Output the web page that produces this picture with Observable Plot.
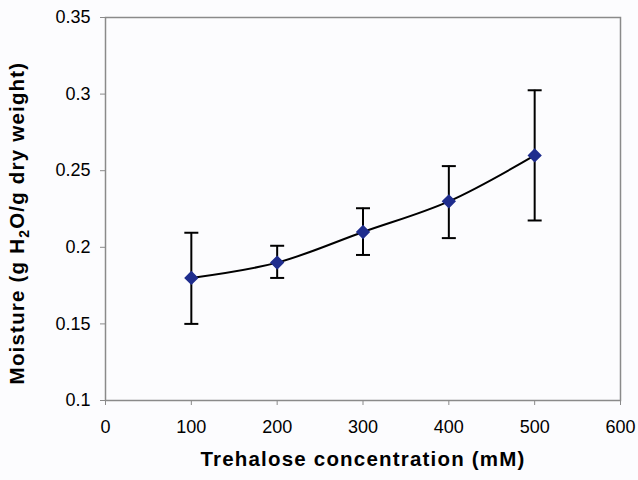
<!DOCTYPE html>
<html>
<head>
<meta charset="utf-8">
<script src="https://cdn.jsdelivr.net/npm/d3@7"></script>
<script src="https://cdn.jsdelivr.net/npm/@observablehq/plot@0.6"></script>
<style>
  html, body { margin: 0; padding: 0; background: #fcfcfe; }
  #chart { width: 638px; height: 480px; }
</style>
</head>
<body>
<div id="chart"></div>
<script>
const concentration = [100, 200, 300, 400, 500];
const moisture = [0.18, 0.19, 0.21, 0.23, 0.26];
const errLow = [0.150, 0.180, 0.195, 0.206, 0.2175];
const errHigh = [0.2095, 0.201, 0.2255, 0.253, 0.3025];
const xTicks = [0, 100, 200, 300, 400, 500, 600];
const yTicks = [0.1, 0.15, 0.2, 0.25, 0.3, 0.35];
const xTitle = "Trehalose concentration (mM)";
const yTitle = "Moisture (g H2O/g dry weight)";

const data = concentration.map((c, i) => ({x: c, y: moisture[i], lo: errLow[i], hi: errHigh[i]}));

const cap = {draw(ctx) { ctx.moveTo(-7, 0); ctx.lineTo(7, 0); }};

const chart = Plot.plot({
  width: 638,
  height: 480,
  marginLeft: 105,
  marginRight: 18,
  marginTop: 17,
  marginBottom: 80,
  style: {background: "#fcfcfe", fontFamily: "'Liberation Sans', Arial, sans-serif", fontSize: "18px", color: "#000"},
  x: {domain: [0, 600], ticks: xTicks, tickFormat: d => String(d)},
  y: {domain: [0.1, 0.35], ticks: yTicks, tickFormat: d => String(d)},
  marks: [
    Plot.frame({stroke: "#8a8a8a", strokeWidth: 1.5}),
    Plot.axisX({ticks: xTicks, tickSize: 5, tickPadding: 15, stroke: "#8a8a8a", fill: "#000", label: null, tickFormat: d => String(d)}),
    Plot.axisY({ticks: yTicks, tickSize: 5, tickPadding: 10, stroke: "#8a8a8a", fill: "#000", label: null, tickFormat: d => String(d)}),
    Plot.ruleX(data, {x: "x", y1: "lo", y2: "hi", stroke: "#000", strokeWidth: 2}),
    Plot.dot(data, {x: "x", y: "lo", symbol: cap, stroke: "#000", strokeWidth: 2, fill: "none"}),
    Plot.dot(data, {x: "x", y: "hi", symbol: cap, stroke: "#000", strokeWidth: 2, fill: "none"}),
    Plot.line(data, {x: "x", y: "y", curve: "catmull-rom", stroke: "#000", strokeWidth: 2}),
    Plot.dot(data, {x: "x", y: "y", symbol: "diamond2", r: 5.5, fill: "#1f2d8e", stroke: "#1f2d8e"}),
    Plot.text([xTitle], {frameAnchor: "bottom", dy: 65, textAnchor: "middle", fontWeight: "bold", fontSize: 20.5, fill: "#000"}),
    Plot.text([yTitle], {frameAnchor: "left", dx: -88, dy: 14, textAnchor: "middle", rotate: -90, fontWeight: "bold", fontSize: 20.5, fill: "#000"})
  ]
});

document.getElementById("chart").appendChild(chart);

chart.querySelectorAll("text").forEach(t => {
  if (t.textContent === xTitle) {
    t.setAttribute("letter-spacing", "1.2");
  }
  if (t.textContent === yTitle) {
    t.setAttribute("letter-spacing", "1.2");
    t.textContent = "";
    const ns = "http://www.w3.org/2000/svg";
    const parts = [["Moisture (g H", null], ["2", "sub"], ["O/g dry weight)", "after"]];
    parts.forEach(([s, kind]) => {
      const ts = document.createElementNS(ns, "tspan");
      ts.textContent = s;
      if (kind === "sub") {
        ts.setAttribute("font-size", "14");
        ts.setAttribute("dy", "5");
      } else if (kind === "after") {
        ts.setAttribute("dy", "-5");
      }
      t.appendChild(ts);
    });
  }
});
</script>
</body>
</html>
